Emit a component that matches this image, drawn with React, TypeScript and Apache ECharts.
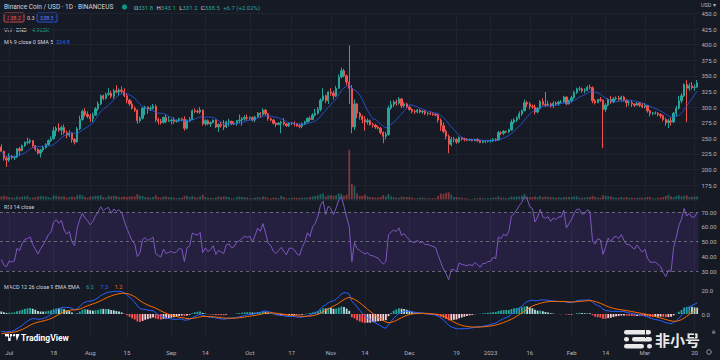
import React, { useEffect, useRef } from "react";
import * as echarts from "echarts";

// ---------- DATA (daily [close, high, low]; open = previous close) ----------
const FIRST_OPEN = 236;
const JUN = [[229,240,228],[218,230,214],[215,221,204]];
const JUL = [
[221,226,212],[219,223,216],[220,222,215],[233,234,218],[230,236,222],[238,240,229],[243,245,236],[244,251,240],[246,249,241],[238,247,235],
[232,239,229],[226,234,224],[231,233,219],[235,238,228],[240,242,233],[246,248,238],[249,253,244],[262,268,248],[266,269,253],[263,274,260],
[267,270,255],[259,272,256],[255,262,250],[258,263,252],[248,259,243],[244,250,240],[265,268,243],[280,286,263],[293,296,278],[288,298,285],
[285,293,282]];
const AUG = [
[281,289,276],[287,291,276],[297,300,286],[305,309,294],[318,320,303],[314,320,311],[320,323,312],[322,330,318],[317,326,314],[326,329,313],
[324,335,322],[327,330,319],[325,333,322],[318,330,316],[311,322,306],[305,313,302],[298,310,296],[295,301,292],[278,296,273],[282,285,275],
[298,300,280],[300,302,287],[297,301,289],[298,302,294],[301,305,296],[280,304,276],[277,283,272],[275,281,272],[283,285,274],[277,288,274],
[278,285,276]];
const SEP = [
[279,281,272],[277,284,273],[278,280,275],[281,283,276],[280,283,277],[266,285,262],[278,280,264],[280,284,276],[294,296,279],[293,298,290],
[292,296,290],[295,300,289],[273,296,270],[278,280,270],[273,280,271],[275,277,268],[279,280,274],[268,280,266],[272,274,260],[270,276,267],
[268,279,263],[276,278,266],[277,281,269],[273,278,271],[274,277,271],[278,279,270],[279,288,274],[281,284,270],[283,287,278],[282,288,278]];
const OCT = [
[283,285,279],[279,285,277],[284,286,276],[290,292,283],[288,292,283],[295,298,286],[289,297,286],[281,290,278],[279,283,277],[274,281,272],
[272,276,268],[274,276,271],[276,278,258],[273,282,270],[270,274,268],[274,275,268],[274,276,271],[273,277,269],[270,274,268],[269,273,266],
[273,275,266],[276,278,271],[282,283,275],[280,285,277],[287,290,279],[290,297,285],[296,300,288],[311,314,293],[318,330,309],[310,320,306],
[324,325,305]];
const NOV = [
[322,330,318],[318,326,312],[330,334,316],[348,352,329],[358,363,346],[350,361,348],[340,352,335],[330,399,305],[268,335,258],[305,312,263],
[290,306,282],[285,292,280],[280,287,274],[276,285,262],[278,282,272],[272,280,270],[271,275,267],[268,273,265],[266,270,264],[259,268,256],
[253,261,242],[256,260,248],[298,302,254],[304,310,296],[308,311,300],[306,312,302],[313,316,304],[302,314,298],[305,308,299],[300,307,298]];
const DEC = [
[296,302,294],[293,298,290],[292,296,289],[295,297,290],[292,297,290],[293,295,289],[290,295,287],[290,292,286],[289,293,287],[288,291,286],
[287,290,285],[279,290,275],[270,282,262],[261,275,258],[253,264,248],[240,256,226],[248,252,237],[248,252,243],[244,250,241],[251,253,242],
[249,252,246],[248,251,245],[247,250,245],[248,249,246],[246,249,245],[248,249,245],[246,250,244],[243,247,242],[245,247,242],[245,247,242],
[246,247,243]];
const JAN = [
[246,248,243],[248,250,244],[247,250,245],[259,262,246],[258,261,255],[261,263,255],[260,262,258],[263,265,258],[276,280,262],[279,282,273],
[283,285,276],[289,293,280],[294,296,286],[307,312,293],[305,310,300],[301,308,296],[300,304,297],[292,304,288],[298,300,290],[309,311,296],
[304,314,302],[303,324,300],[305,310,301],[302,307,299],[306,309,298],[305,309,302],[308,310,302],[308,311,306],[316,318,307],[305,317,303],
[310,312,304]];
const FEB = [
[315,318,307],[323,326,313],[329,331,321],[329,333,326],[326,331,323],[327,330,322],[332,334,325],[331,336,328],[310,333,306],[307,313,304],
[312,313,306],[311,316,308],[296,312,234],[303,306,292],[312,314,301],[308,318,305],[313,316,306],[314,317,311],[312,318,310],[316,318,309],
[311,318,309],[307,312,300],[307,310,302],[305,311,300],[303,306,300],[306,308,302],[303,308,300],[300,306,298]];
const MAR = [
[302,306,298],[294,303,291],[290,295,285],[290,292,287],[290,293,288],[288,292,285],[286,290,282],[280,288,277],[275,283,270],[278,281,266],
[276,283,270],[290,292,274],[298,302,285],[310,318,296],[318,322,306],[336,338,316],[330,343,276],[334,338,326],[331,340,328],[331.8,336,326],
[338.5,343.1,331.2]];

// volume (thousand BNB)
const VOL_JUN = [5,6,5];
const VOL_JUL = [4,3,3,5,4,5,5,6,3,3,4,5,6,5,5,4,3,7,6,5,5,5,3,4,5,4,7,8,7,4,3];
const VOL_AUG = [5,5,6,6,7,4,3,6,5,6,6,4,4,5,4,5,5,5,9,6,6,4,4,3,4,7,4,3,5,5,4];
const VOL_SEP = [4,3,2,3,3,6,6,4,6,4,3,5,8,4,3,3,2,3,5,4,5,5,4,2,2,4,5,4,4,3];
const VOL_OCT = [2,2,3,4,3,5,4,2,2,3,3,2,6,4,2,2,3,3,3,3,3,3,3,4,5,6,7,9,10,5,7];
const VOL_NOV = [7,6,7,10,9,6,8,82,26,22,10,6,6,8,5,4,4,3,3,4,7,5,9,5,4,3,3,5,4,4];
const VOL_DEC = [4,3,2,2,3,3,2,2,2,2,2,6,10,9,11,12,8,4,4,3,3,2,2,1,1,2,2,3,2,2,2];
const VOL_JAN = [2,3,3,5,3,3,2,3,5,4,5,5,6,9,5,4,4,5,4,6,4,5,4,4,4,3,4,3,4,4,4];
const VOL_FEB = [4,5,5,3,3,3,4,4,6,4,3,3,7,6,6,5,4,3,3,4,3,4,3,3,2,3,3,3];
const VOL_MAR = [3,4,4,2,2,3,3,4,6,8,5,4,6,7,5,6,7,4,4,5,4.965];

// indicator states before the first visible bar
const RSI_INIT_GAIN = 3.0;
const RSI_INIT_LOSS = 4.4;
const EMA12_INIT = 236;
const EMA26_INIT = 251;
const SIGNAL_INIT = -17;

const TICK_LABELS: [string, string][] = [
  ["2022-07-01","Jul"],["2022-07-18","18"],["2022-08-01","Aug"],["2022-08-15","15"],
  ["2022-09-01","Sep"],["2022-09-14","14"],["2022-10-01","Oct"],["2022-10-17","17"],
  ["2022-11-01","Nov"],["2022-11-14","14"],["2022-12-01","Dec"],["2022-12-19","19"],
  ["2023-01-01","2023"],["2023-01-16","16"],["2023-02-01","Feb"],["2023-02-14","14"],
  ["2023-03-01","Mar"],["2023-03-20","20"],
];

const UP = "#26a69a";
const DOWN = "#ef5350";
const BG = "#161a25";
const GRID = "#1f2330";
const TXT = "#b2b5be";
const FONT = 'Roboto, "Noto Sans", sans-serif';

export default function App() {
  const ref = useRef<HTMLDivElement>(null);
  useEffect(() => {
    if (!ref.current) return;
    const chart = echarts.init(ref.current, undefined, { renderer: "svg" });

    const rows = [...JUN, ...JUL, ...AUG, ...SEP, ...OCT, ...NOV, ...DEC, ...JAN, ...FEB, ...MAR];
    const vols = [...VOL_JUN, ...VOL_JUL, ...VOL_AUG, ...VOL_SEP, ...VOL_OCT, ...VOL_NOV, ...VOL_DEC, ...VOL_JAN, ...VOL_FEB, ...VOL_MAR];
    const n = rows.length;
    const start = Date.UTC(2022, 5, 28);
    const dates: string[] = [];
    for (let i = 0; i < n; i++) dates.push(new Date(start + i * 86400000).toISOString().slice(0, 10));
    const tickMap: Record<string, string> = {};
    TICK_LABELS.forEach(([d, l]) => (tickMap[d] = l));
    const tickIdx = new Set(dates.map((d, i) => (tickMap[d] ? i : -1)).filter((i) => i >= 0));

    const closes = rows.map((r) => r[0]);
    const opens = closes.map((_, i) => (i === 0 ? FIRST_OPEN : closes[i - 1]));
    const candles = rows.map((r, i) => {
      const o = opens[i], c = r[0];
      return [o, c, Math.min(r[2], o, c), Math.max(r[1], o, c)];
    });
    const ma: number[] = closes.map((_, i) => {
      const s = closes.slice(Math.max(0, i - 8), i + 1);
      return +(s.reduce((a, b) => a + b, 0) / s.length).toFixed(2);
    });
    const volData = vols.map((v, i) => ({
      value: v,
      itemStyle: { color: closes[i] >= opens[i] ? "rgba(38,166,154,0.5)" : "rgba(239,83,80,0.5)" },
    }));
    // RSI 14 (Wilder)
    let ag = RSI_INIT_GAIN, al = RSI_INIT_LOSS, prev = FIRST_OPEN;
    const rsi = closes.map((c) => {
      const ch = c - prev; prev = c;
      ag = (ag * 13 + Math.max(ch, 0)) / 14;
      al = (al * 13 + Math.max(-ch, 0)) / 14;
      return +(100 - 100 / (1 + ag / al)).toFixed(2);
    });
    // MACD 12 26 9
    let e12 = EMA12_INIT, e26 = EMA26_INIT, sig = SIGNAL_INIT;
    const macd: number[] = [], signal: number[] = [], hist: number[] = [];
    closes.forEach((c) => {
      e12 = c * (2 / 13) + e12 * (11 / 13);
      e26 = c * (2 / 27) + e26 * (25 / 27);
      const m = e12 - e26;
      sig = m * 0.2 + sig * 0.8;
      macd.push(+m.toFixed(3)); signal.push(+sig.toFixed(3)); hist.push(+(m - sig).toFixed(3));
    });
    const histData = hist.map((h, i) => {
      const p = i > 0 ? hist[i - 1] : h;
      const color = h >= 0 ? (h > p ? "#26a69a" : "#b2dfdb") : (h > p ? "#ffcdd2" : "#ff5252");
      return { value: h, itemStyle: { color } };
    });
    const last = n - 1;

    const gridBase = { left: -1, right: 21.5, containLabel: false };
    const xAxis = (gridIndex: number, showLabel: boolean) => ({
      type: "category", gridIndex, data: dates, boundaryGap: true,
      axisLine: { show: false }, axisTick: { show: false, alignWithLabel: true },
      axisLabel: showLabel
        ? { show: true, interval: (i: number) => tickIdx.has(i), formatter: (v: string) => tickMap[v] || "",
            color: TXT, fontSize: 6, margin: 11, fontFamily: FONT }
        : { show: false },
      splitLine: { show: true, alignWithLabel: true, interval: (i: number) => tickIdx.has(i), lineStyle: { color: GRID, width: 1 } },
    });
    const yLabel = { color: TXT, fontSize: 6, margin: 3, fontFamily: FONT };

    chart.setOption({
      animation: false,
      backgroundColor: BG,
      grid: [
        { ...gridBase, top: 13.4, height: 187.2 },
        { ...gridBase, top: 145, height: 54.5 },
        { ...gridBase, top: 197.25, height: 88.5 },
        { ...gridBase, top: 284, height: 54 },
      ],
      xAxis: [xAxis(0, false), xAxis(1, false), xAxis(2, false), xAxis(3, true)],
      yAxis: [
        { type: "value", gridIndex: 0, position: "right", min: 150, max: 450, interval: 25,
          axisLabel: { ...yLabel, formatter: (v: number) => (v === 150 ? "" : v.toFixed(1)) },
          splitLine: { lineStyle: { color: GRID } }, axisLine: { show: false }, axisTick: { show: false } },
        { type: "value", gridIndex: 1, min: 0, max: 90, show: false, splitLine: { show: false } },
        { type: "value", gridIndex: 2, position: "right", min: 20, max: 80, interval: 10,
          axisLabel: { ...yLabel, formatter: (v: number) => (v === 20 || v === 80 ? "" : v.toFixed(2)) },
          splitLine: { show: false }, axisLine: { show: false }, axisTick: { show: false } },
        { type: "value", gridIndex: 3, position: "right", min: -20, max: 25, interval: 20,
          axisLabel: { ...yLabel, showMinLabel: false, showMaxLabel: false, formatter: (v: number) => (v === 0 || v === 20 ? v.toFixed(1) : "") },
          splitLine: { show: false }, axisLine: { show: false }, axisTick: { show: false } },
      ],
      series: [
        {
          type: "candlestick", xAxisIndex: 0, yAxisIndex: 0, data: candles, barWidth: 1.8,
          itemStyle: { color: UP, color0: DOWN, borderColor: UP, borderColor0: DOWN, borderWidth: 1 },
          markLine: {
            silent: true, symbol: "none",
            lineStyle: { color: UP, width: 1, type: "dotted", opacity: 0 },
            label: { show: true, position: "end", distance: 0, formatter: closes[last].toFixed(1),
                     backgroundColor: UP, color: "#ffffff", fontSize: 6, padding: [2, 2, 1, 2], fontFamily: FONT },
            data: [{ yAxis: closes[last] }],
          },
        },
        { type: "line", xAxisIndex: 0, yAxisIndex: 0, data: ma, showSymbol: false,
          lineStyle: { color: "#2962ff", width: 0.9, opacity: 0.8 } },
        { type: "bar", xAxisIndex: 1, yAxisIndex: 1, data: volData, barWidth: 1.8 },
        {
          type: "line", xAxisIndex: 2, yAxisIndex: 2, data: rsi, showSymbol: false,
          lineStyle: { color: "#7e57c2", width: 1 },
          markLine: {
            silent: true, symbol: "none", label: { show: false },
            lineStyle: { color: "#787b86", type: [3, 3], width: 0.8 },
            data: [{ yAxis: 70 }, { yAxis: 50 }, { yAxis: 30 }],
          },
          markArea: { silent: true, itemStyle: { color: "rgba(120,70,200,0.16)" }, data: [[{ yAxis: 30 }, { yAxis: 70 }]] },
        },
        { type: "bar", xAxisIndex: 3, yAxisIndex: 3, data: histData, barWidth: 1.8 },
        { type: "line", xAxisIndex: 3, yAxisIndex: 3, data: macd, showSymbol: false, lineStyle: { color: "#2962ff", width: 1 } },
        { type: "line", xAxisIndex: 3, yAxisIndex: 3, data: signal, showSymbol: false, lineStyle: { color: "#ff6d00", width: 1 } },
      ],
      graphic: [
        { type: "text", x: 4, y: 7, style: { text: "Binance Coin / USD · 1D · BINANCEUS", fill: "#d1d4dc", fontSize: 6.5, fontFamily: FONT, verticalAlign: "middle" } },
        { type: "circle", shape: { cx: 124.5, cy: 7, r: 2.6 }, style: { fill: "#089981" } },
        { type: "text", x: 134, y: 7, style: {
            text: "{l|O}{v|331.8} {l|H}{v|343.1} {l|L}{v|331.2} {l|C}{v|338.5} {v|+6.7 (+2.02%)}",
            verticalAlign: "middle",
            rich: { l: { fill: "#d1d4dc", fontSize: 6, fontFamily: FONT }, v: { fill: UP, fontSize: 6, fontFamily: FONT } } } },
        { type: "rect", shape: { x: 4, y: 13, width: 20, height: 9, r: 1 }, style: { fill: "rgba(239,83,80,0.08)", stroke: DOWN, lineWidth: 0.8 } },
        { type: "text", x: 14, y: 17.5, style: { text: "338.2", fill: DOWN, fontSize: 5.5, fontFamily: FONT, align: "center", verticalAlign: "middle" } },
        { type: "text", x: 27, y: 17.5, style: { text: "0.3", fill: "#d1d4dc", fontSize: 5.5, fontFamily: FONT, verticalAlign: "middle" } },
        { type: "rect", shape: { x: 37, y: 13, width: 20, height: 9, r: 1 }, style: { fill: "rgba(41,98,255,0.08)", stroke: "#2962ff", lineWidth: 0.8 } },
        { type: "text", x: 47, y: 17.5, style: { text: "338.5", fill: "#5b83ff", fontSize: 5.5, fontFamily: FONT, align: "center", verticalAlign: "middle" } },
        { type: "text", x: 4, y: 30, style: { text: "Vol · BNB", fill: "#d1d4dc", fontSize: 5.5, fontFamily: FONT, verticalAlign: "middle" } },
        { type: "text", x: 32, y: 30, style: { text: "4.965K", fill: "#22ab94", fontSize: 5.5, fontFamily: FONT, verticalAlign: "middle" } },
        { type: "text", x: 4, y: 41.5, style: { text: "MA 9 close 0 SMA 5", fill: "#d1d4dc", fontSize: 5.5, fontFamily: FONT, verticalAlign: "middle" } },
        { type: "text", x: 56, y: 41.5, style: { text: "324.8", fill: "#2962ff", fontSize: 5.5, fontFamily: FONT, verticalAlign: "middle" } },
        { type: "text", x: 701, y: 5, style: { text: "USD ▾", fill: TXT, fontSize: 5.5, fontFamily: FONT, verticalAlign: "middle" } },
        { type: "text", x: 4, y: 207, style: { text: "RSI 14 close", fill: "#d1d4dc", fontSize: 5.5, fontFamily: FONT, verticalAlign: "middle" } },
        { type: "text", x: 4, y: 286.5, style: {
            text: "{l|MACD 12 26 close 9 EMA EMA}  {a|6.2}  {b|7.3}  {c|1.2}", verticalAlign: "middle",
            rich: { l: { fill: "#d1d4dc", fontSize: 5.5, fontFamily: FONT }, a: { fill: UP, fontSize: 5.5, fontFamily: FONT },
                    b: { fill: "#2962ff", fontSize: 5.5, fontFamily: FONT }, c: { fill: "#ff6d00", fontSize: 5.5, fontFamily: FONT } } } },
        // TradingView logo
        { type: "rect", shape: { x: 5, y: 334, width: 7, height: 2.4 }, style: { fill: "#ffffff" } },
        { type: "rect", shape: { x: 8.2, y: 334, width: 2.4, height: 7 }, style: { fill: "#ffffff" } },
        { type: "circle", shape: { cx: 14, cy: 335.2, r: 1.2 }, style: { fill: "#ffffff" } },
        { type: "polygon", shape: { points: [[15.6, 334], [19.5, 334], [16.8, 341]] }, style: { fill: "#ffffff" } },
        { type: "text", x: 21, y: 337.5, style: { text: "TradingView", fill: "#ffffff", fontSize: 8.5, fontWeight: "bold", fontFamily: FONT, verticalAlign: "middle" } },
        // settings icon
        { type: "circle", shape: { cx: 709, cy: 352, r: 2.3 }, style: { fill: "none", stroke: TXT, lineWidth: 0.8 } },
        // watermark
        { type: "rect", shape: { x: 624, y: 330, width: 27, height: 4.5, r: 2.2 }, style: { fill: "#e9e9ea" } },
        { type: "rect", shape: { x: 624, y: 337, width: 5, height: 4.5, r: 2.2 }, style: { fill: "#e9e9ea" } },
        { type: "rect", shape: { x: 632, y: 337, width: 20, height: 4.5, r: 2.2 }, style: { fill: "#e9e9ea" } },
        { type: "rect", shape: { x: 624, y: 344, width: 20, height: 4.5, r: 2.2 }, style: { fill: "#e9e9ea" } },
        { type: "rect", shape: { x: 647, y: 344, width: 5, height: 4.5, r: 2.2 }, style: { fill: "#e9e9ea" } },
        { type: "text", x: 655, y: 339, style: { text: "非小号", fill: "#e9e9ea", fontSize: 15, fontWeight: "bold", fontFamily: '"Noto Sans CJK SC", sans-serif', verticalAlign: "middle" } },
        { type: "text", x: 712, y: 332, style: { text: "®", fill: "#e9e9ea", fontSize: 4, fontFamily: FONT, verticalAlign: "middle" } },
      ],
    });
    return () => chart.dispose();
  }, []);
  return (
    <div ref={ref} style={{ position: "fixed", left: 0, top: 0, width: 720, height: 360, background: BG }} />
  );
}
